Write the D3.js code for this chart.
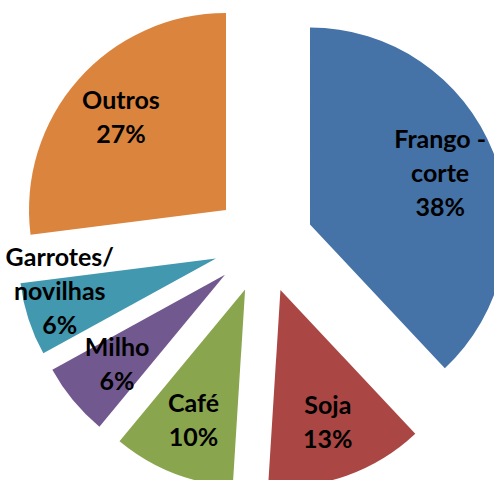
<!DOCTYPE html>
<html>
<head>
<meta charset="utf-8">
<script src="https://cdn.jsdelivr.net/npm/d3@7"></script>
<style>
  html, body { margin: 0; padding: 0; background: #fff; }
  svg { display: block; }
  .lbl { font-family: Lato, Roboto, "Liberation Sans", sans-serif; font-weight: 700; font-size: 25px; fill: #000; }
</style>
</head>
<body>
<svg id="chart" width="494" height="480"></svg>
<script>
// Share of each activity (%)
const categories = ["Frango - corte", "Soja", "Café", "Milho", "Garrotes/ novilhas", "Outros"];
const shares = [38, 13, 10, 6, 6, 27];
const labelLines = [["Frango -", "corte"], ["Soja"], ["Café"], ["Milho"], ["Garrotes/", "novilhas"], ["Outros"]];
const colors = ["#4572A7", "#AA4643", "#89A54E", "#71588F", "#4198AF", "#DB843D"];

// Layout
const W = 494, H = 480;
const cx = 263.5, cy = 243;
const radius = 197;
const explode = 50;        // distance each slice is pulled out from the centre
const labelRadius = 140;   // label anchor distance along the slice bisector
const lineHeight = 34;
const labelNudge = { "Garrotes/ novilhas": [-23, -11] };

const svg = d3.select("#chart");
svg.append("rect").attr("width", W).attr("height", H).attr("fill", "#fff");

const pie = d3.pie().sort(null).value(d => d)(shares);
const arc = d3.arc().innerRadius(0).outerRadius(radius);
const labelArc = d3.arc().innerRadius(labelRadius).outerRadius(labelRadius);

const root = svg.append("g").attr("transform", `translate(${cx},${cy})`);

const slices = root.selectAll("g.slice")
  .data(pie)
  .join("g")
  .attr("class", "slice")
  .attr("transform", d => {
    const mid = (d.startAngle + d.endAngle) / 2;
    return `translate(${explode * Math.sin(mid)},${-explode * Math.cos(mid)})`;
  });

slices.append("path")
  .attr("d", arc)
  .attr("fill", (d, i) => colors[i]);

slices.each(function (d, i) {
  const [lx, ly] = labelArc.centroid(d);
  const nudge = labelNudge[categories[i]] || [0, 0];
  const lines = labelLines[i].concat([`${shares[i]}%`]);
  const x = lx + nudge[0];
  const y0 = ly + nudge[1] + 9 - (lines.length - 1) * lineHeight / 2;
  const t = d3.select(this).append("text")
    .attr("class", "lbl")
    .attr("text-anchor", "middle");
  lines.forEach((s, k) => {
    t.append("tspan").attr("x", x).attr("y", y0 + k * lineHeight).text(s);
  });
});
</script>
</body>
</html>
